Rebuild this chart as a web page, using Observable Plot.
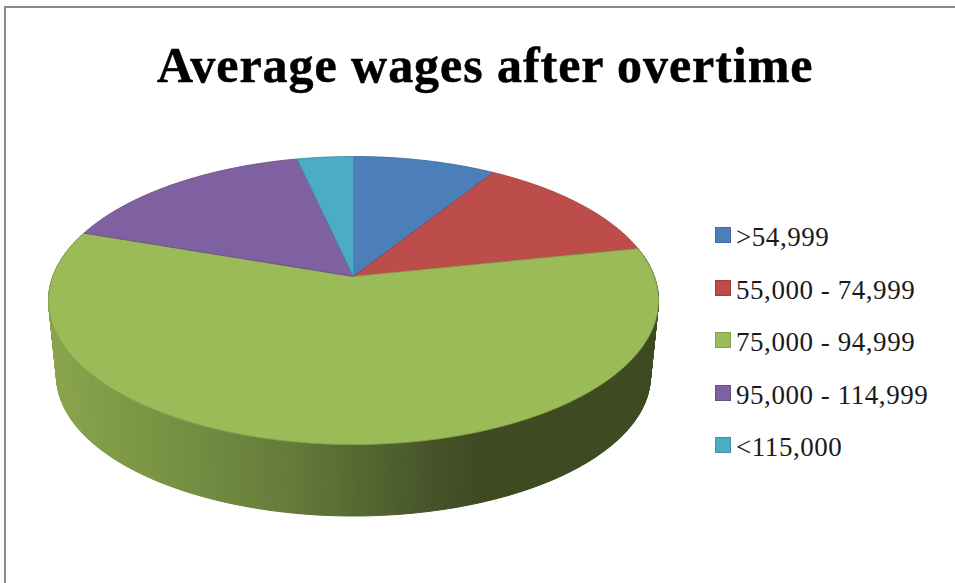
<!DOCTYPE html>
<html><head><meta charset="utf-8">
<script src="https://cdn.jsdelivr.net/npm/d3@7"></script>
<script src="https://cdn.jsdelivr.net/npm/@observablehq/plot@0.6"></script>
<style>
html,body{margin:0;padding:0;background:#fff;overflow:hidden}
#frame{position:relative;width:955px;height:583px;overflow:hidden}
#frame::before{content:"";position:absolute;left:4px;top:6px;width:960px;height:600px;border:2px solid #8a8a8a;box-sizing:border-box}
#title{position:absolute;left:157px;top:35px;width:700px;white-space:nowrap;font:bold 50px "Liberation Serif",serif;color:#000;letter-spacing:.95px;line-height:60px;-webkit-text-stroke:.5px #000}
#chart{position:absolute;left:0;top:100px}
#legend{position:absolute;left:715px;top:211px}
.row{position:absolute;left:0;white-space:nowrap;font:27px/52px "Liberation Serif",serif;color:#1a1a1a;letter-spacing:.55px;height:52px;display:flex;align-items:center}
.sw{width:14px;height:14px;border:1.5px solid;margin-right:5px;display:inline-block;flex:none;position:relative;top:-2px}
</style></head><body>
<div id="frame">
<div id="title"></div>
<div id="chart"></div>
<div id="legend"></div>
</div>
<script>
const chartTitle = "Average wages after overtime";
const categories = [">54,999", "55,000 - 74,999", "75,000 - 94,999", "95,000 - 114,999", "<115,000"];
const shares = [8.9, 12.8, 58.6, 16.2, 3.5];
const topColors = ["#4c7eba", "#bd4d4a", "#9bbb59", "#7f60a0", "#4aacc6"];
const edgeColors = ["#3f6a9e", "#a03f3d", "#86a24b", "#6b5087", "#3e91a7"];

// Side-wall shading of the pie, left to right across the rim
const shadeStops = [-305, -223, -150, -70, 0, 80, 127, 305];
const shadeColors = ["#8aa54d", "#7c9845", "#718c41", "#667c3a", "#566a31", "#47542a", "#3e4a22", "#3e4a20"];
const shade = d3.scaleLinear().domain(shadeStops).range(shadeColors);

// Perspective of the disc: circle (u,v) -> plane, apex above the ellipse's centre
const persp = 1 / 6, reach = 300.7, lift = 144, apexUp = 24, drop = 75.5, squeezeX = 297 / 305, squeezeY = 140 / 144;
const project = (a) => {
  const u = Math.sin(a), v = Math.cos(a), w = 1 + persp * v;
  return {x: reach * u / w, y: (apexUp + lift * v) / w};
};
const projectBottom = (a) => {
  const p = project(a);
  return {x: p.x * squeezeX, y: p.y * squeezeY - drop};
};

const total = d3.sum(shares);
const cum = d3.cumsum(shares);
const wedges = categories.map((name, i) => ({
  name, color: topColors[i], edge: edgeColors[i],
  a0: (i ? cum[i - 1] : 0) / total * 2 * Math.PI,
  a1: cum[i] / total * 2 * Math.PI
}));

const topPaths = wedges.flatMap(w => {
  const n = Math.ceil((w.a1 - w.a0) / 0.01);
  const pts = [{x: 0, y: apexUp, name: w.name, color: w.color, edge: w.edge}];
  for (let k = 0; k <= n; k++) {
    pts.push({...project(w.a0 + (w.a1 - w.a0) * k / n), name: w.name, color: w.color, edge: w.edge});
  }
  pts.push(pts[0]);
  return pts;
});

const big = wedges[d3.greatestIndex(shares)];
const sideStrips = [];
{
  const step = 0.012;
  let id = 0;
  for (let a = big.a0; a < big.a1; a += step) {
    const b = Math.min(a + step, big.a1);
    const t0 = project(a), t1 = project(b), b0 = projectBottom(a), b1 = projectBottom(b);
    const c = shade((t0.x + t1.x) / 2);
    for (const p of [t0, t1, b1, b0, t0]) sideStrips.push({...p, id, c});
    id++;
  }
}

const W = 700, H = 483;
const plot = Plot.plot({
  width: W, height: H, margin: 0,
  x: {domain: [-353, W - 353], range: [0, W], axis: null},
  y: {domain: [200, 200 - H], range: [0, H], axis: null},
  color: {type: "identity"},
  marks: [
    Plot.line(sideStrips, {x: "x", y: "y", z: "id", fill: "c", stroke: "c", strokeWidth: 1, curve: "linear"}),
    Plot.line(topPaths, {x: "x", y: "y", z: "name", fill: "color", stroke: "edge", strokeWidth: 0.9, curve: "linear", title: "name"})
  ]
});
document.getElementById("chart").append(plot);
document.getElementById("title").textContent = chartTitle;
const legend = document.getElementById("legend");
categories.forEach((c, i) => {
  const r = document.createElement("div");
  r.className = "row";
  r.style.top = (i * 52.6) + "px";
  const s = document.createElement("span");
  s.className = "sw";
  s.style.background = topColors[i];
  s.style.borderColor = edgeColors[i];
  r.append(s, document.createTextNode(c));
  legend.append(r);
});
</script>
</body></html>
